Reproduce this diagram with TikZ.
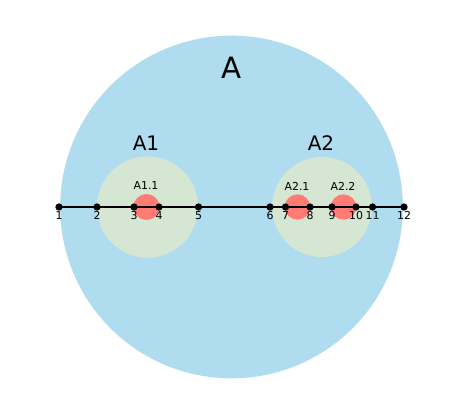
\documentclass[tikz,border=0pt]{standalone}
\usepackage{fontspec}
\setmainfont{DejaVu Sans}
\usetikzlibrary{positioning, calc}
\definecolor{cOuter}{HTML}{B0DCEF}
\definecolor{cInner}{HTML}{D5E6D3}
\definecolor{cCore}{HTML}{FF7B73}
\tikzset{
  region/.style 2 args={
    circle, inner sep=0pt, minimum size=#2,
    fill=#1, draw=none
  },
  pt/.style={
    circle, fill=black, inner sep=0pt, minimum size=5.5pt
  },
  ptlbl/.style={
    font=\fontsize{8.2}{9}\selectfont, inner sep=0pt
  },
  sublbl/.style={
    font=\fontsize{8.2}{9}\selectfont, inner sep=0pt
  },
  grplbl/.style={
    font=\fontsize{15}{17}\selectfont, inner sep=0pt
  }
}

\begin{document}
\begin{tikzpicture}[x=0.75pt, y=-0.75pt]

\useasboundingbox (0,0) rectangle (459,411);

%% ── Regions ──────────────────────────────────────────────────────

% outer set
\node[region={cOuter}{257pt}] (A) at (231.5,207) {};

% inner sets
\node[region={cInner}{76pt}] (A1) at (147.5,207) {};
\node[region={cInner}{75pt}] (A2) at (322,207) {};

% cores
\node[region={cCore}{19.5pt}] (A11) at (146.5,207) {};
\node[region={cCore}{19pt}] (A21) at (297.5,207) {};
\node[region={cCore}{19pt}] (A22) at (343.5,207) {};

%% ── Labels ───────────────────────────────────────────────────────

\node[font=\fontsize{22}{24}\selectfont, inner sep=0pt] (lA) at (232,68) {A};
\node[grplbl] (lA1) at (146,143) {A1};
\node[grplbl] (lA2) at (321,143) {A2};
\node[sublbl] (lA11) at (146,186) {A1.1};
\node[sublbl] (lA21) at (297,186) {A2.1};
\node[sublbl] (lA22) at (343,186) {A2.2};

%% ── Axis and points ──────────────────────────────────────────────

\foreach \n/\x in {1/59, 2/97, 3/134, 4/159, 5/198.5, 6/270,
                   7/285.5, 8/310, 9/332, 10/356, 11/372.5, 12/404}
  \coordinate (p\n) at (\x,207);

\draw[line width=1.5pt] (p1) -- (p12);

\foreach \n in {1,...,12} {
  \node[pt] (d\n) at (p\n) {};
  \node[ptlbl, below=3.2pt of p\n] (l\n) {\n};
}

\end{tikzpicture}
\end{document}
